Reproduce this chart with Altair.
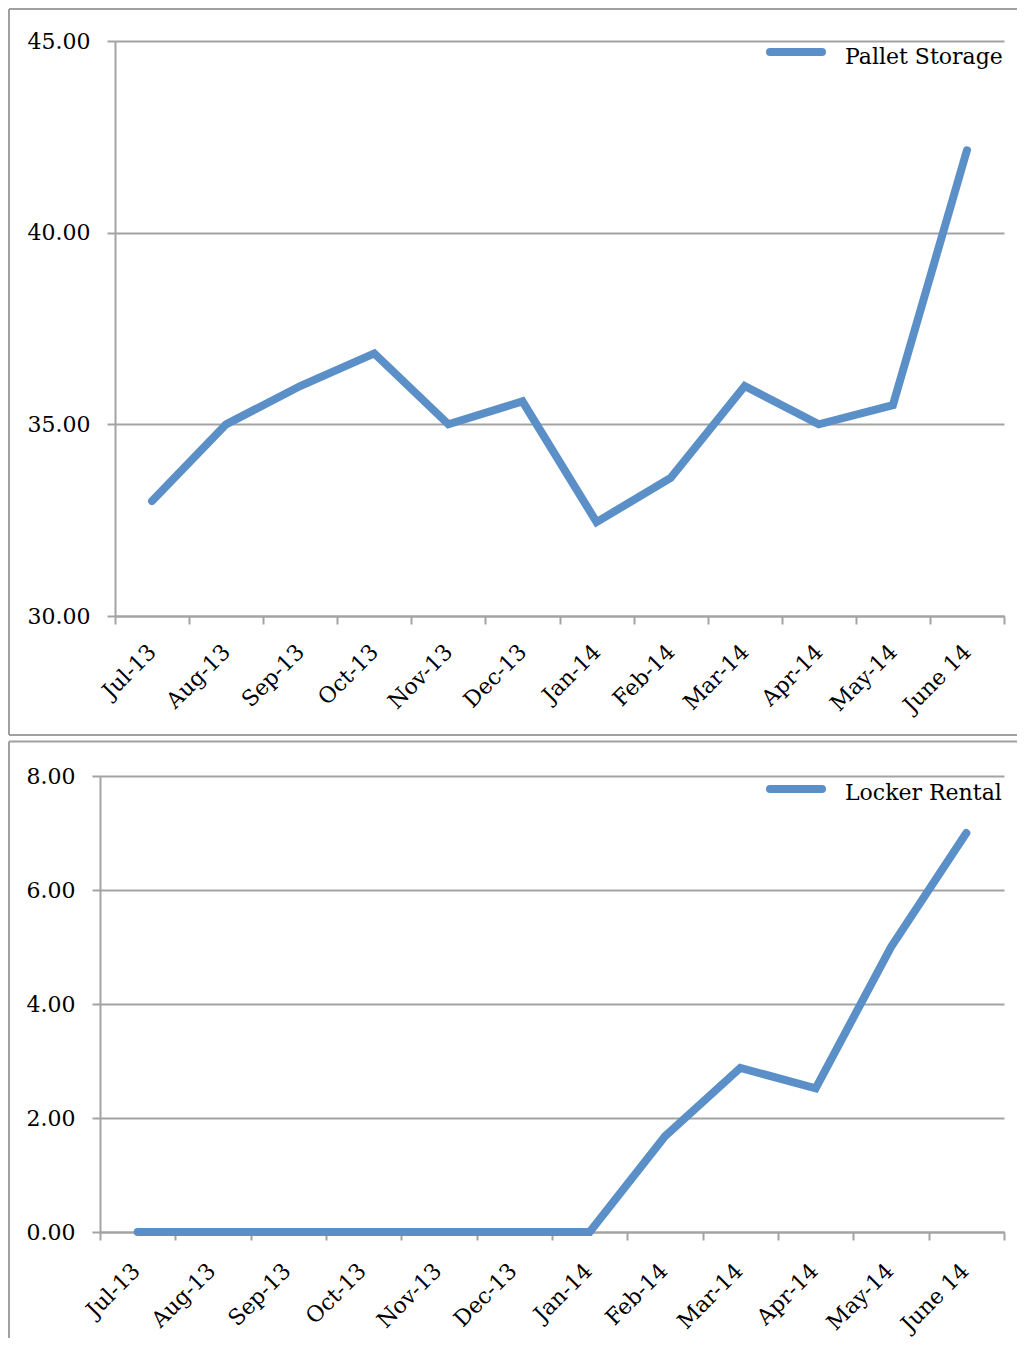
import altair as alt
import pandas as pd

# ---- data ----
months = ["Jul-13", "Aug-13", "Sep-13", "Oct-13", "Nov-13", "Dec-13",
          "Jan-14", "Feb-14", "Mar-14", "Apr-14", "May-14", "June 14"]
pallet_storage = [33.0, 35.0, 36.0, 36.85, 35.0, 35.6, 32.45, 33.6, 36.0, 35.0, 35.5, 42.15]
locker_rental = [0, 0, 0, 0, 0, 0, 0, 1.68, 2.88, 2.52, 5.0, 7.0]
pallet_ticks = [30, 35, 40, 45]
locker_ticks = [0, 2, 4, 6, 8]
series_names = ["Pallet Storage", "Locker Rental"]

BLUE = "#5B8FC8"
GRID = "#A3A3A3"
FRAME = "#A0A0A0"
FONT = "DejaVu Serif"

W, H = 904, 1191          # whole drawing area (both panels)
label_expr = "[" + ", ".join("'%s'" % m for m in months) + ", ''][datum.value]"


def frame_rule(**enc):
    return alt.Chart(pd.DataFrame({"k": [0]})).mark_rule(color=FRAME, strokeWidth=2).encode(**enc)


def series_line(values, ticks, x_range, y_range, x_axis_offset, y_axis_offset, lab_off, lab_pad):
    df = pd.DataFrame({"month": months, "value": values})
    return (
        alt.Chart(df)
        .transform_window(n="row_number()")
        .transform_calculate(pos="datum.n - 0.5")
        .mark_line(strokeWidth=8, strokeCap="round", strokeJoin="miter", color=BLUE)
        .encode(
            x=alt.X(
                "pos:Q", title=None,
                scale=alt.Scale(domain=[0, len(months)], nice=False, zero=False, range=x_range),
                axis=alt.Axis(orient="bottom", offset=x_axis_offset,
                              values=list(range(len(months) + 1)), labelExpr=label_expr,
                              grid=False, labelAngle=315, labelAlign="right",
                              labelBaseline="middle", labelOffset=lab_off,
                              labelPadding=lab_pad, labelOverlap=False,
                              labelFlush=False, labelBound=False),
            ),
            y=alt.Y(
                "value:Q", title=None,
                scale=alt.Scale(domain=[ticks[0], ticks[-1]], nice=False, zero=False, range=y_range),
                axis=alt.Axis(orient="left", offset=y_axis_offset, values=ticks, format=".2f",
                              grid=True, labelPadding=17, labelFlush=False, labelOverlap=False),
            ),
        )
    )


def legend(name, sym_y, txt_y):
    leg_df = pd.DataFrame({"series": [name]})
    sym = alt.Chart(leg_df).mark_rule(
        color=BLUE, strokeWidth=8, strokeCap="round"
    ).encode(x=alt.value(670), x2=alt.value(722), y=alt.value(sym_y))
    txt = alt.Chart(leg_df).mark_text(
        align="left", baseline="alphabetic", font=FONT, fontSize=22, color="#000000"
    ).encode(text="series:N", x=alt.value(745), y=alt.value(txt_y))
    return [sym, txt]


# top panel: plot area 15..904 x 0..575 ; bottom panel: 0..904 x 735..1191
top_line = series_line(pallet_storage, pallet_ticks, [15, W], [575, 0], -(H - 575), -15, 37, 24)
bottom_line = series_line(locker_rental, locker_ticks, [0, W], [H, 735], 0, 0, 36, 27)

frames = [
    # top panel frame
    frame_rule(x=alt.value(-91), x2=alt.value(917), y=alt.value(-32)),
    frame_rule(x=alt.value(-91), y=alt.value(-32), y2=alt.value(694)),
    frame_rule(x=alt.value(-91), x2=alt.value(917), y=alt.value(694)),
    # bottom panel frame
    frame_rule(x=alt.value(-91), x2=alt.value(917), y=alt.value(700.5)),
    frame_rule(x=alt.value(-91), y=alt.value(700.5), y2=alt.value(1297)),
]

chart = (
    alt.layer(*frames, top_line, bottom_line,
              *legend(series_names[0], 11, 23), *legend(series_names[1], 748, 759))
    .resolve_scale(x="independent", y="independent")
    .properties(
        width=W, height=H,
        autosize=alt.AutoSizeParams(type="none"),
        padding={"left": 92, "top": 33, "right": 14, "bottom": 108},
    )
    .configure_view(stroke=None)
    .configure_axis(
        domainColor=GRID, domainWidth=2, tickColor=GRID, tickWidth=2, tickSize=8,
        gridColor=GRID, gridWidth=2, labelFont=FONT, labelFontSize=22, labelColor="#000000",
    )
)

chart.save("out.html", embed_options={"renderer": "svg", "actions": False})
